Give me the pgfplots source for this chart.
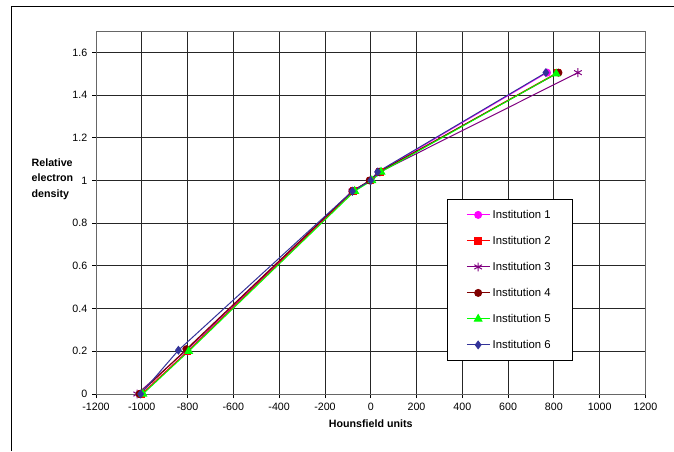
\documentclass[border=0pt]{standalone}
\usepackage{pgfplots}
\pgfplotsset{compat=1.18}
\usepackage{fontspec}
\setmainfont{Liberation Sans}
\definecolor{inst1}{RGB}{255,0,255}
\definecolor{inst2}{RGB}{255,0,0}
\definecolor{inst3}{RGB}{128,0,128}
\definecolor{inst4}{RGB}{128,0,0}
\definecolor{inst5}{RGB}{0,255,0}
\definecolor{inst6}{RGB}{51,51,153}
\begin{document}
\begin{tikzpicture}
\useasboundingbox (0,0) rectangle (505.5pt,338.25pt);
\draw[black, line width=0.75pt] (8.25pt,0) -- (8.25pt,333pt) -- (505.5pt,333pt);
\begin{axis}[
  at={(72pt,42.75pt)}, anchor=south west,
  scale only axis, width=412.1pt, height=272.25pt,
  xmin=-1200, xmax=1200, ymin=0, ymax=1.7,
  xtick={-1200,-1000,...,1200},
  ytick={0,0.2,...,1.6},
  /pgf/number format/assume math mode=true,
  /pgf/number format/1000 sep={},
  ticklabel style={font=\fontsize{8}{9.6}\selectfont},
  scaled y ticks=false,
  yticklabel style={/pgf/number format/fixed},
  tick align=outside, tick style={black, line width=0.6pt},
  major tick length=3pt,
  xtick pos=bottom, ytick pos=left,
  grid=major, grid style={black!85, line width=0.65pt},
  axis line style={black!60, line width=0.75pt},
  xlabel={Hounsfield units},
  xlabel style={font=\fontsize{8}{9.6}\selectfont\bfseries},
  legend style={at={(0.639,0.537)}, anchor=north west, draw=black, line width=0.75pt,
    font=\fontsize{8.5}{9.6}\selectfont, inner xsep=14pt, inner ysep=5pt, row sep=6.5pt,
    nodes={text height=7pt, text depth=2pt}},
  legend cell align=left,
  every axis plot/.append style={line width=0.75pt},
]
\addplot[inst1, mark=*, mark size=2.6pt, mark options={solid, fill=inst1}] coordinates {
  (-1000,0) (-800,0.2) (-80,0.95) (0,1.0) (35,1.04) (770,1.505)};
\addlegendentry{Institution 1}
\addplot[inst2, mark=square*, mark size=2.4pt, mark options={solid, fill=inst2}] coordinates {
  (-1000,0) (-800,0.2) (-75,0.95) (0,1.0) (40,1.04) (815,1.505)};
\addlegendentry{Institution 2}
\addplot[inst3, mark=asterisk, mark size=3.3pt, mark options={solid}] coordinates {
  (-1020,0) (-805,0.205) (-80,0.95) (0,1.0) (40,1.04) (905,1.505)};
\addlegendentry{Institution 3}
\addplot[inst4, mark=*, mark size=2.6pt, mark options={solid, fill=inst4}] coordinates {
  (-1010,0) (-805,0.21) (-80,0.95) (-5,1.0) (35,1.04) (820,1.505)};
\addlegendentry{Institution 4}
\addplot[inst5, mark=triangle*, mark size=3.2pt, mark options={solid, fill=inst5}] coordinates {
  (-995,0) (-795,0.2) (-70,0.95) (5,1.0) (45,1.04) (810,1.5)};
\addlegendentry{Institution 5}
\addplot[inst6, mark=diamond*, mark size=2.8pt, mark options={solid, fill=inst6}] coordinates {
  (-1005,0) (-840,0.205) (-80,0.95) (0,1.0) (30,1.04) (765,1.505)};
\addlegendentry{Institution 6}
\end{axis}
\node[anchor=west, align=left, font=\fontsize{8}{11.5}\selectfont\bfseries] at (20.25pt,204pt) {Relative\\electron\\density};
\end{tikzpicture}
\end{document}
